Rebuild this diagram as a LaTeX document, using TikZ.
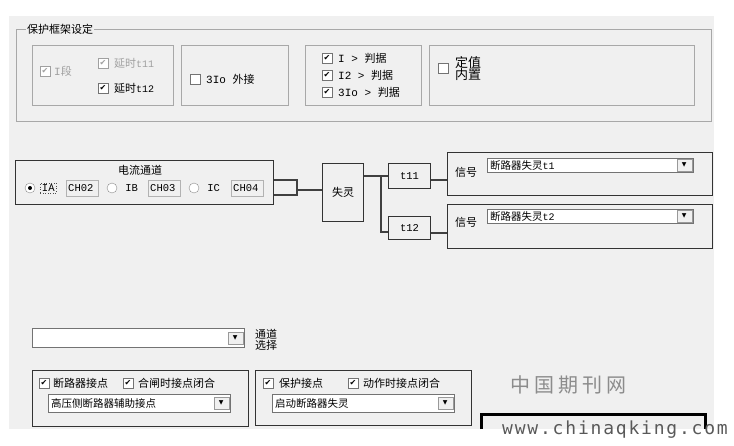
\documentclass[tikz,border=0pt]{standalone}
\usepackage{fontspec}
\setmainfont{Noto Sans CJK SC}
\newfontfamily\symfont{DejaVu Sans}
\newfontfamily\asc{Liberation Mono}
\newfontfamily\urlfont[LetterSpace=10]{DejaVu Sans Mono}
\newfontfamily\wmfont[LetterSpace=20]{Noto Sans CJK SC}
\newcommand\tsm{\fontsize{10}{11}\selectfont}
\usetikzlibrary{calc,positioning}
\definecolor{winbg}{HTML}{F0F0F0}
\definecolor{etch}{HTML}{A8A8A8}
\definecolor{dimtext}{HTML}{A0A0A0}

\begin{document}
\begin{tikzpicture}
[x=1pt, y=-1pt,
every node/.style={font=\fontsize{11}{12}\selectfont, inner sep=0pt},
lbl/.style={anchor=west},
sunk/.style={rectangle, draw=etch, line width=0.9pt, anchor=north west},
frame/.style={rectangle, draw=black!80, line width=1.1pt, anchor=north west},
cbox/.style={rectangle, draw=black!55, fill=white, minimum size=9.5,
font=\symfont\fontsize{8}{8}\selectfont},
radio/.style={circle, draw=black!45, fill=white, minimum size=10},
field/.style={rectangle, draw=black!30, fill=winbg, anchor=north west,
minimum height=16, text width=#1, inner xsep=2, align=left,
font=\asc\fontsize{10.5}{11}\selectfont},
combo/.style={rectangle, draw=black!55, fill=white, anchor=north west,
text width=#1, inner xsep=3, align=left, font=\fontsize{10.5}{11}\selectfont},
ddbtn/.style={rectangle, draw=black!40, fill=winbg, minimum width=15,
minimum height=12, anchor=east, font=\symfont\fontsize{6}{6}\selectfont},
wire/.style={draw=black!75, line width=1.1pt}]

\useasboundingbox (0,0) rectangle (734,445);
\fill[winbg] (9,16) rectangle (714,429);

% Frame settings
\node[sunk, minimum width=695, minimum height=92] (frame) at (16,29) {};
\node[lbl, fill=winbg, inner xsep=1] (ftitle) at (26,29) {保护框架设定};

\node[sunk, minimum width=141, minimum height=60] (seg) at (32,45) {};
\node[sunk, minimum width=107, minimum height=60] (ext) at (181,45) {};
\node[sunk, minimum width=116, minimum height=60] (crit) at (305,45) {};
\node[sunk, minimum width=265, minimum height=60] (fix) at (429,45) {};

\node[cbox, text=dimtext, draw=dimtext] (cbseg) at (45,71) {✔};
\node[lbl, text=dimtext, right=4pt of cbseg] (tseg) {{\asc I}段};
\node[cbox, text=dimtext, draw=dimtext] (cbt11) at (103,63) {✔};
\node[lbl, text=dimtext, right=6pt of cbt11] (tt11) {延时{\asc\tsm t11}};
\node[cbox] (cbt12) at (103,88) {✔};
\node[lbl, right=6pt of cbt12] (tt12) {延时{\asc\tsm t12}};

\node[cbox] (cbext) at (195,79) {};
\node[lbl, right=6pt of cbext] (text) {{\asc 3Io }外接};

\node[cbox] (cbi) at (327,58) {✔};
\node[lbl, right=6pt of cbi] (ti) {{\asc I > }判据};
\node[cbox] (cbi2) at (327,75) {✔};
\node[lbl, right=6pt of cbi2] (ti2) {{\asc I2 > }判据};
\node[cbox] (cbi0) at (327,92) {✔};
\node[lbl, right=6pt of cbi0] (ti0) {{\asc 3Io > }判据};

\node[cbox] (cbfix) at (443,68) {};
\node[lbl, font=\fontsize{13}{13}\selectfont] (tfix1) at (455,63) {定值};
\node[lbl, font=\fontsize{13}{13}\selectfont] (tfix2) at (455,75) {内置};

% Current channel
\node[frame, minimum width=258, minimum height=44] (chan) at (15,160) {};
\node (chant) at (140,170) {电流通道};
\node[radio] (ra) at (30,188) {};
\fill (ra.center) circle (2);
\node[lbl, right=5pt of ra, draw=black!70, dotted, line width=0.5pt,
inner sep=1.5pt, font=\asc\fontsize{10.5}{11}\selectfont] (ta) {IA};
\node[field=28] (ch2) at (66,180) {CH02};
\node[radio] (rb) at (112,188) {};
\node[lbl, right=8pt of rb, font=\asc\fontsize{10.5}{11}\selectfont] (tb) {IB};
\node[field=28] (ch3) at (148,180) {CH03};
\node[radio] (rc) at (194,188) {};
\node[lbl, right=8pt of rc, font=\asc\fontsize{10.5}{11}\selectfont] (tc) {IC};
\node[field=28] (ch4) at (231,180) {CH04};

% Logic
\node[frame, minimum width=41, minimum height=58] (fail) at (322,163) {失灵};
\node[frame, minimum width=42, minimum height=25,
font=\asc\fontsize{10.5}{11}\selectfont] (t11) at (388,163) {t11};
\node[frame, minimum width=42, minimum height=23,
font=\asc\fontsize{10.5}{11}\selectfont] (t12) at (388,216) {t12};

\node[frame, minimum width=265, minimum height=43] (sig1) at (447,152) {};
\node[frame, minimum width=265, minimum height=44] (sig2) at (447,204) {};
\node[lbl] (sl1) at (455,172) {信号};
\node[combo=200, minimum height=14] (cmb1) at (487,158) {断路器失灵{\asc\tsm t1}};
\node[ddbtn] (cmb1b) at ([xshift=-1.5pt]cmb1.east) {▼};
\node[lbl] (sl2) at (455,222) {信号};
\node[combo=200, minimum height=14] (cmb2) at (487,209) {断路器失灵{\asc\tsm t2}};
\node[ddbtn] (cmb2b) at ([xshift=-1.5pt]cmb2.east) {▼};

\coordinate (br) at (297,190);
\coordinate (split) at (381,176);
\coordinate (split2) at (381,232);
\coordinate (j1) at (438,180);
\coordinate (j2) at (438,233);

\draw[wire] ($(chan.north east)+(0,20)$) -| ($(br)+(0,5)$)
-- ($(chan.north east)+(0,35)$);
\draw[wire] (br) -- (br -| fail.west);
\draw[wire] (fail.east |- split) -- (t11.west |- split);
\draw[wire] (split) -- (split2) -- (t12.west |- split2);
\draw[wire] (t11.east |- j1) -- (sig1.west |- j1);
\draw[wire] (t12.east |- j2) -- (sig2.west |- j2);

% Contacts
\node[combo=206, minimum height=19] (sel) at (32,328) {};
\node[ddbtn] (selb) at ([xshift=-1.5pt]sel.east) {▼};
\node[lbl] (tsel1) at (255,334) {通道};
\node[lbl] (tsel2) at (255,345) {选择};

\node[frame, minimum width=216, minimum height=56] (brk) at (32,370) {};
\node[cbox] (cbbrk) at (44,383) {✔};
\node[lbl, right=4pt of cbbrk] (tbrk) {断路器接点};
\node[cbox] (cbcls) at (128,383) {✔};
\node[lbl, right=5pt of cbcls] (tcls) {合闸时接点闭合};
\node[combo=176, minimum height=18] (cmbbrk) at (48,394) {高压侧断路器辅助接点};
\node[ddbtn] (cmbbrkb) at ([xshift=-1.5pt]cmbbrk.east) {▼};

\node[frame, minimum width=216, minimum height=55] (prt) at (255,370) {};
\node[cbox] (cbprt) at (268,383) {✔};
\node[lbl, right=6pt of cbprt] (tprt) {保护接点};
\node[cbox] (cbact) at (353,383) {✔};
\node[lbl, right=5pt of cbact] (tact) {动作时接点闭合};
\node[combo=176, minimum height=18] (cmbprt) at (272,394) {启动断路器失灵};
\node[ddbtn] (cmbprtb) at ([xshift=-1.5pt]cmbprt.east) {▼};

% Watermark
\node[text=black!45, font=\wmfont\fontsize{20}{20}\selectfont] (wm) at (568,385) {中国期刊网};
\draw[line width=3pt] (481,429) -- (481,414) -- (705,414) -- (705,429);
\node[lbl, text=black!65, font=\urlfont\fontsize{18}{18}\selectfont] (url) at (502,430) {www.chinaqking.com};

\end{tikzpicture}
\end{document}
